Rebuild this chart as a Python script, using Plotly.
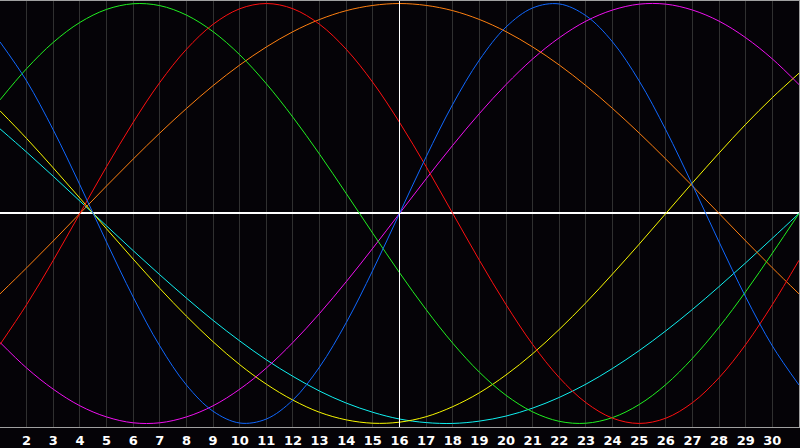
import plotly.graph_objects as go

days = list(range(1, 32))
tick_days = list(range(2, 31))
tick_labels = [str(d) for d in tick_days]
today = 16

blue = [0.817, 0.631, 0.398, 0.136, -0.136, -0.398, -0.631, -0.817, -0.942, -0.998,
        -0.979, -0.888, -0.731, -0.520, -0.270, 0.0, 0.270, 0.520, 0.731, 0.888,
        0.979, 0.998, 0.942, 0.817, 0.631, 0.398, 0.136, -0.136, -0.398, -0.631, -0.817]
magenta = [-0.614, -0.736, -0.837, -0.916, -0.969, -0.997, -0.997, -0.969, -0.916, -0.837,
           -0.736, -0.614, -0.476, -0.325, -0.165, 0.0, 0.165, 0.325, 0.476, 0.614,
           0.736, 0.837, 0.916, 0.969, 0.997, 0.997, 0.969, 0.916, 0.837, 0.736, 0.614]
red = [-0.624, -0.434, -0.223, 0.0, 0.223, 0.434, 0.624, 0.782, 0.901, 0.975,
       1.0, 0.975, 0.901, 0.782, 0.624, 0.434, 0.223, 0.0, -0.223, -0.434,
       -0.624, -0.782, -0.901, -0.975, -1.0, -0.975, -0.901, -0.782, -0.624, -0.434, -0.223]
orange = [-0.383, -0.259, -0.131, 0.0, 0.131, 0.259, 0.383, 0.5, 0.609, 0.707,
          0.793, 0.866, 0.924, 0.966, 0.991, 1.0, 0.991, 0.966, 0.924, 0.866,
          0.793, 0.707, 0.609, 0.5, 0.383, 0.259, 0.131, 0.0, -0.131, -0.259, -0.383]
green = [0.541, 0.690, 0.815, 0.910, 0.972, 0.999, 0.990, 0.945, 0.866, 0.756,
         0.618, 0.458, 0.282, 0.095, -0.095, -0.282, -0.458, -0.618, -0.756, -0.866,
         -0.945, -0.990, -0.999, -0.972, -0.910, -0.815, -0.690, -0.541, -0.372, -0.189, 0.0]
yellow = [0.489, 0.357, 0.217, 0.073, -0.073, -0.217, -0.357, -0.489, -0.611, -0.720,
          -0.813, -0.889, -0.947, -0.983, -0.999, -0.994, -0.968, -0.920, -0.854, -0.769,
          -0.668, -0.552, -0.425, -0.288, -0.146, 0.0, 0.146, 0.288, 0.425, 0.552, 0.668]
cyan = [0.403, 0.292, 0.177, 0.059, -0.059, -0.177, -0.292, -0.403, -0.509, -0.607,
        -0.697, -0.776, -0.846, -0.903, -0.947, -0.979, -0.996, -1.0, -0.989, -0.965,
        -0.927, -0.876, -0.813, -0.738, -0.653, -0.559, -0.457, -0.348, -0.235, -0.118, 0.0]

series = [
    ("cyan", cyan, "#10f0f0"),
    ("yellow", yellow, "#f8f800"),
    ("magenta", magenta, "#f010f0"),
    ("orange", orange, "#ff8010"),
    ("green", green, "#20f020"),
    ("red", red, "#ff1010"),
    ("blue", blue, "#1068ff"),
]

bg = "#050307"
fig = go.Figure()
for name, vals, col in series:
    fig.add_trace(go.Scatter(x=days, y=vals, mode="lines", name=name,
                             line=dict(color=col, width=1, shape="spline", smoothing=1.0),
                             hoverinfo="skip"))

fig.add_shape(type="line", xref="x", yref="paper", x0=today, x1=today, y0=0, y1=1,
              line=dict(color="#ffffff", width=1), layer="above")

fig.update_layout(
    width=800, height=448,
    margin=dict(l=0, r=0, t=0, b=20),
    paper_bgcolor=bg, plot_bgcolor=bg,
    showlegend=False,
    xaxis=dict(range=[1, 31], tickvals=tick_days, ticktext=tick_labels,
               showgrid=True, gridcolor="#303030", gridwidth=1,
               zeroline=False, showline=True, linecolor="#a0a0a0", linewidth=1,
               mirror=True, ticks="", ticklabelstandoff=1,
               tickfont=dict(family="DejaVu Sans", size=13, color="#ffffff", weight="bold")),
    yaxis=dict(range=[-1.017, 1.012], showgrid=False, showticklabels=False,
               zeroline=True, zerolinecolor="#ffffff", zerolinewidth=2,
               showline=True, linecolor="#a0a0a0", linewidth=1, mirror=True, ticks=""),
)

fig.write_html("out.html", config={"displayModeBar": False},
               post_script="document.body.style.margin='0';document.body.style.background='#050307';")
